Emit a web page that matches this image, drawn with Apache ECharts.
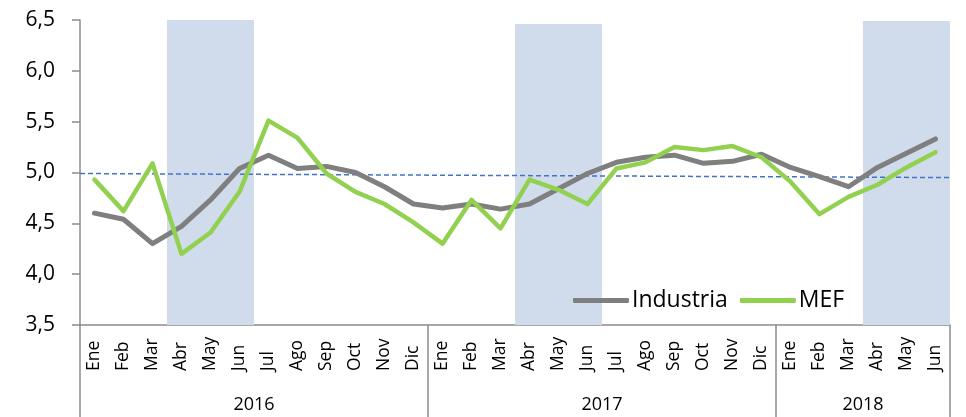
<!DOCTYPE html>
<html>
<head>
<meta charset="utf-8">
<script src="https://cdn.jsdelivr.net/npm/echarts@6/dist/echarts.min.js"></script>
<style>
  html, body { margin: 0; padding: 0; background: #fff; }
  #chart { width: 966px; height: 417px; }
</style>
</head>
<body>
<div id="chart"></div>
<script>
// meses (categorias del eje)
var meses = ['Ene','Feb','Mar','Abr','May','Jun','Jul','Ago','Sep','Oct','Nov','Dic',
             'Ene','Feb','Mar','Abr','May','Jun','Jul','Ago','Sep','Oct','Nov','Dic',
             'Ene','Feb','Mar','Abr','May','Jun'];
var anios = ['2016', '2017', '2018'];
var mesesPorAnio = [12, 12, 6];

var industria = [4.60, 4.54, 4.30, 4.47, 4.73, 5.04, 5.17, 5.04, 5.06, 5.00, 4.86, 4.69,
                 4.65, 4.69, 4.64, 4.69, 4.84, 4.99, 5.10, 5.15, 5.17, 5.09, 5.11, 5.18,
                 5.05, 4.96, 4.86, 5.05, 5.19, 5.33];
var mef = [4.93, 4.62, 5.09, 4.20, 4.41, 4.81, 5.51, 5.34, 4.99, 4.81, 4.69, 4.51,
           4.30, 4.73, 4.45, 4.93, 4.83, 4.69, 5.04, 5.10, 5.25, 5.22, 5.26, 5.15,
           4.91, 4.59, 4.76, 4.88, 5.05, 5.20];

// linea de tendencia (inicio, fin)
var tendencia = [4.99, 4.95];
// trimestres sombreados: [mes inicio, mes fin) por indice
var sombras = [[3, 6], [15, 18], [27, 30]];
var sombraTope = [6.5, 6.46, 6.49];

var yTicks = [3.5, 6.5, 0.5]; // min, max, intervalo

var colores = {
  gris: '#7f7f7f',
  verde: '#92d050',
  banda: '#d0dcec',
  guion: '#4472c4',
  eje: '#8c8c8c',
  texto: '#000'
};

// posiciones de los separadores y etiquetas de anio
var cortes = [0], medios = [], acum = 0;
for (var i = 0; i < mesesPorAnio.length; i++) {
  medios.push(acum + mesesPorAnio[i] / 2);
  acum += mesesPorAnio[i];
  cortes.push(acum);
}

var chart = echarts.init(document.getElementById('chart'));
chart.setOption({
  animation: false,
  textStyle: { fontFamily: 'Open Sans' },
  grid: { left: 80, right: 16, top: 20, bottom: 92, outerBoundsMode: 'none' },
  legend: {
    left: 568, top: 284,
    data: ['Industria', 'MEF'],
    icon: 'roundRect',
    itemWidth: 56, itemHeight: 5, itemGap: 12,
    textStyle: { fontSize: 23, color: colores.texto, fontFamily: 'Open Sans', padding: [0, 0, 0, -2] }
  },
  xAxis: [
    {
      type: 'category',
      data: meses,
      position: 'bottom',
      axisLine: { lineStyle: { color: colores.eje, width: 1.5 } },
      axisTick: { show: false },
      axisLabel: {
        interval: 0, rotate: 90, align: 'left', verticalAlign: 'middle',
        margin: 46, fontSize: 17.5, color: colores.texto
      },
      splitLine: { show: false }
    },
    {
      type: 'value',
      min: 0, max: acum,
      position: 'bottom',
      axisLine: { show: false },
      axisTick: {
        show: true, customValues: cortes, length: 92,
        lineStyle: { color: colores.eje, width: 1.5 }
      },
      axisLabel: {
        customValues: medios, margin: 71, fontSize: 18, color: colores.texto,
        formatter: function (v) { return anios[medios.indexOf(v)]; }
      },
      splitLine: { show: false }
    }
  ],
  yAxis: {
    type: 'value',
    min: yTicks[0], max: yTicks[1], interval: yTicks[2],
    axisLine: { show: true, lineStyle: { color: colores.eje, width: 1.5 } },
    axisTick: { show: true, inside: false, length: 8, lineStyle: { color: colores.eje, width: 1.5 } },
    axisLabel: {
      margin: 25, fontSize: 21, color: colores.texto,
      formatter: function (v) { return v.toFixed(1).replace('.', ','); }
    },
    splitLine: { show: false }
  },
  series: [
    {
      // bandas + tendencia
      name: 'tendencia',
      type: 'line',
      xAxisIndex: 1,
      data: [[0, tendencia[0]], [acum, tendencia[1]]],
      symbol: 'none',
      silent: true,
      z: 1,
      lineStyle: { color: colores.guion, width: 1.5, type: [5, 3] },
      markArea: {
        silent: true,
        itemStyle: { color: colores.banda },
        data: sombras.map(function (s, k) {
          return [{ xAxis: s[0], yAxis: yTicks[0] }, { xAxis: s[1], yAxis: sombraTope[k] }];
        })
      }
    },
    {
      name: 'Industria',
      type: 'line',
      data: industria,
      symbol: 'none',
      z: 3,
      itemStyle: { color: colores.gris },
      lineStyle: { color: colores.gris, width: 5, cap: 'round', join: 'round' }
    },
    {
      name: 'MEF',
      type: 'line',
      data: mef,
      symbol: 'none',
      z: 4,
      itemStyle: { color: colores.verde },
      lineStyle: { color: colores.verde, width: 4.5, cap: 'round', join: 'round' }
    }
  ]
});
</script>
</body>
</html>
